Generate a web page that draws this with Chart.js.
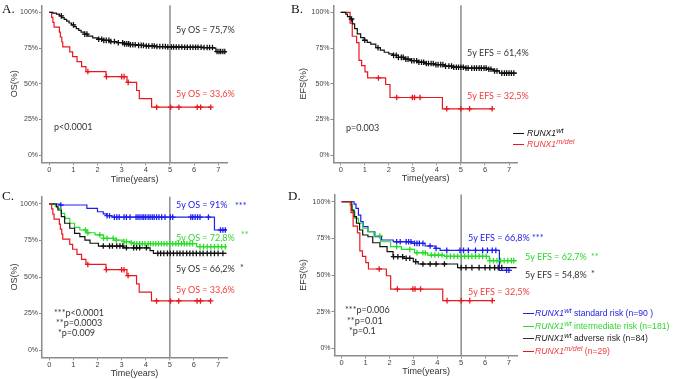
<!DOCTYPE html>
<html>
<head>
<meta charset="utf-8">
<script src="https://cdn.jsdelivr.net/npm/chart.js@4.4.0/dist/chart.umd.min.js"></script>
<style>
  body { margin: 0; background: #fff; }
  #page { position: relative; width: 673px; height: 379px; overflow: hidden; font-family: "Liberation Sans", Arial, sans-serif; }
  canvas { position: absolute; }
  .txt { position: absolute; font-family: Lato, "Liberation Sans", sans-serif; font-size: 9px; line-height: 1; white-space: nowrap; transform: translateY(-50%); }
  .lab { position: absolute; font-family: "Liberation Serif", serif; font-size: 13px; line-height: 1; transform: translateY(-50%); color: #111; }
  .sw { position: absolute; height: 0; border-top: 1.6px solid; }
  .lg { position: absolute; font-size: 8.6px; line-height: 1; white-space: nowrap; transform: translateY(-50%); }
  .lg i sup { font-size: 7.5px; vertical-align: 3px; line-height: 0; }
</style>
</head>
<body>
<div id="page">
  <canvas id="chartA" width="290" height="190" style="left:0;top:0"></canvas>
  <canvas id="chartB" width="383" height="190" style="left:290px;top:0"></canvas>
  <canvas id="chartC" width="290" height="194" style="left:0;top:185px"></canvas>
  <canvas id="chartD" width="383" height="194" style="left:290px;top:185px"></canvas>

  <div class="lab" style="left:2px;top:8px">A.</div>
  <div class="lab" style="left:291px;top:8px">B.</div>
  <div class="lab" style="left:2px;top:195px">C.</div>
  <div class="lab" style="left:288px;top:195px">D.</div>

  <!-- A -->
  <div class="txt" style="left:176px;top:29px;color:#333">5y OS = 75,7%</div>
  <div class="txt" style="left:176px;top:93px;color:#f23c3c">5y OS = 33,6%</div>
  <div class="txt" style="left:54px;top:126px;color:#333">p&lt;0.0001</div>
  <!-- B -->
  <div class="txt" style="left:467px;top:52px;color:#333">5y EFS = 61,4%</div>
  <div class="txt" style="left:467px;top:95px;color:#f23c3c">5y EFS = 32,5%</div>
  <div class="txt" style="left:346px;top:127px;color:#333">p=0.003</div>
  <div class="sw" style="left:513px;top:133px;width:11px;border-color:#111"></div>
  <div class="lg" style="left:527px;top:133px;color:#111"><i>RUNX1<sup>wt</sup></i></div>
  <div class="sw" style="left:513px;top:144px;width:11px;border-color:#e8171e"></div>
  <div class="lg" style="left:527px;top:144px;color:#f23c3c"><i>RUNX1<sup>m/del</sup></i></div>
  <!-- C -->
  <div class="txt" style="left:176px;top:204px;color:#2020e6">5y OS = 91%</div>
  <div class="txt" style="left:235px;top:205px;color:#2020e6">***</div>
  <div class="txt" style="left:176px;top:237px;color:#2fd62f">5y OS = 72,8%</div>
  <div class="txt" style="left:241px;top:234px;color:#2fd62f">**</div>
  <div class="txt" style="left:176px;top:268px;color:#333">5y OS = 66,2%</div>
  <div class="txt" style="left:240px;top:267px;color:#333">*</div>
  <div class="txt" style="left:176px;top:289px;color:#f23c3c">5y OS = 33,6%</div>
  <div class="txt" style="left:54px;top:312px;color:#333">***p&lt;0.0001</div>
  <div class="txt" style="left:56px;top:322px;color:#333">**p=0.0003</div>
  <div class="txt" style="left:58px;top:332px;color:#333">*p=0.009</div>
  <!-- D -->
  <div class="txt" style="left:468px;top:237px;color:#2020e6">5y EFS = 66,8%</div>
  <div class="txt" style="left:532px;top:237px;color:#2020e6">***</div>
  <div class="txt" style="left:525px;top:256px;color:#2fd62f">5y EFS = 62,7%</div>
  <div class="txt" style="left:591px;top:256px;color:#2fd62f">**</div>
  <div class="txt" style="left:525px;top:274px;color:#333">5y EFS = 54,8%</div>
  <div class="txt" style="left:591px;top:273px;color:#333">*</div>
  <div class="txt" style="left:468px;top:291px;color:#f23c3c">5y EFS = 32,5%</div>
  <div class="txt" style="left:345px;top:309px;color:#333">***p=0.006</div>
  <div class="txt" style="left:347px;top:320px;color:#333">**p=0.01</div>
  <div class="txt" style="left:349px;top:330px;color:#333">*p=0.1</div>
  <div class="sw" style="left:523px;top:313px;width:11px;border-color:#1e1ef0"></div>
  <div class="lg" style="left:535px;top:313px;color:#2020e6"><i>RUNX1<sup>wt</sup></i> standard risk (n=90 )</div>
  <div class="sw" style="left:523px;top:326px;width:11px;border-color:#27dd27"></div>
  <div class="lg" style="left:535px;top:326px;color:#2fd62f"><i>RUNX1<sup>wt</sup></i> intermediate risk (n=181)</div>
  <div class="sw" style="left:523px;top:338px;width:11px;border-color:#333"></div>
  <div class="lg" style="left:535px;top:338px;color:#222"><i>RUNX1<sup>wt</sup></i> adverse risk (n=84)</div>
  <div class="sw" style="left:523px;top:351px;width:11px;border-color:#e8171e"></div>
  <div class="lg" style="left:535px;top:351px;color:#f23c3c"><i>RUNX1<sup>m/del</sup></i> (n=29)</div>
</div>

<script>
// axis ticks
const yearTicks = [0, 1, 2, 3, 4, 5, 6, 7];
const pctTicks = [0, 25, 50, 75, 100];
const landmarkYear = 5;

// A: overall survival, RUNX1 wt vs m/del
const osWtTime = [0, 0.15, 0.3, 0.42, 0.52, 0.62, 0.72, 0.82, 0.92, 1.02, 1.12, 1.22, 1.32, 1.45, 1.6, 1.8, 2.0, 2.2, 2.5, 2.8, 3.05, 3.3, 3.6, 4.0, 4.4, 4.85, 5.6, 6.3, 6.82, 6.9, 7.35];
const osWtSurv = [100, 99.5, 98.8, 97.6, 96.4, 95.1, 93.9, 92.6, 91.3, 90, 88.7, 87.4, 86.2, 84.8, 83.4, 82.2, 81.2, 80.4, 79.6, 78.8, 78, 77.4, 76.9, 76.5, 76.1, 75.8, 75.6, 75.4, 75, 72.6, 72.6];
const osWtCensor = [0.5, 1.0, 1.47, 1.56, 2.05, 2.17, 2.26, 2.36, 2.47, 2.55, 2.7, 2.86, 3.04, 3.12, 3.21, 3.29, 3.36, 3.46, 3.56, 3.7, 3.81, 3.9, 4.02, 4.12, 4.26, 4.35, 4.46, 4.58, 4.7, 4.81, 4.91, 5.06, 5.15, 5.26, 5.37, 5.49, 5.61, 5.72, 5.84, 5.95, 6.06, 6.16, 6.29, 6.41, 6.54, 6.64, 6.76, 6.95, 7.03, 7.1, 7.19, 7.27];

const osMutTime = [0, 0.1, 0.15, 0.2, 0.42, 0.46, 0.52, 0.56, 0.85, 0.97, 1.15, 1.34, 1.52, 2.35, 3.22, 3.62, 3.73, 4.24, 6.69];
const osMutSurv = [100, 96.6, 93.1, 89.7, 86.2, 82.8, 79.3, 75.9, 72.4, 69, 65.5, 62.1, 58.6, 55, 51, 45.3, 39.6, 33.6, 33.6];
const osMutCensor = [1.6, 2.37, 3.0, 3.1, 3.27, 4.45, 5.03, 5.37, 6.13, 6.27, 6.69];

// B: event-free survival, RUNX1 wt vs m/del
const efsWtTime = [0, 0.21, 0.28, 0.39, 0.49, 0.58, 0.69, 0.83, 0.97, 1.1, 1.25, 1.46, 1.65, 1.81, 2.0, 2.15, 2.4, 2.64, 2.9, 3.19, 3.5, 3.88, 4.3, 4.7, 5.2, 6.07, 6.35, 6.6, 7.32];
const efsWtSurv = [100, 98.8, 97, 95.4, 92, 88.6, 85, 82.4, 80.5, 79, 77.8, 75.3, 73.6, 72.1, 71, 69.9, 68.5, 67.3, 66.2, 65.1, 64.2, 63.4, 62.4, 61.6, 61, 60.2, 59, 57.5, 57.5];
const efsWtCensor = [0.45, 1.0, 1.55, 2.2, 2.31, 2.4, 2.52, 2.6, 2.71, 2.8, 2.95, 3.05, 3.16, 3.25, 3.36, 3.45, 3.56, 3.65, 3.76, 3.85, 3.96, 4.05, 4.16, 4.25, 4.36, 4.5, 4.61, 4.7, 4.81, 4.9, 5.0, 5.1, 5.21, 5.3, 5.45, 5.56, 5.65, 5.76, 5.85, 5.96, 6.05, 6.16, 6.25, 6.4, 6.5, 6.7, 6.81, 6.9, 7.0, 7.1, 7.2];

const efsMutTime = [0, 0.39, 0.48, 0.66, 0.76, 0.87, 1.01, 1.12, 1.87, 2.05, 4.23, 6.3];
const efsMutSurv = [100, 92.5, 83.3, 78.8, 66.4, 62.7, 58.4, 54.1, 49.5, 40.4, 32.5, 32.5];
const efsMutCensor = [1.57, 2.33, 2.98, 3.07, 3.3, 4.41, 5.0, 5.36, 6.3];

// C: overall survival by ELN risk within RUNX1 wt
const osStdTime = [0, 0.44, 1.56, 2.0, 2.24, 2.38, 2.6, 6.85, 7.35];
const osStdSurv = [100, 99.3, 97, 94.7, 93.2, 92, 91, 82.2, 82.2];
const osStdCensor = [0.48, 2.4, 2.5, 2.7, 2.8, 2.9, 3.1, 3.2, 3.35, 3.6, 3.68, 3.76, 3.85, 3.92, 4.0, 4.1, 4.18, 4.27, 4.35, 4.45, 4.55, 4.66, 4.8, 5.02, 5.12, 5.87, 5.95, 6.05, 6.15, 6.25, 6.6, 7.1, 7.2, 7.3];

const osIntTime = [0, 0.25, 0.36, 0.5, 0.64, 0.85, 1.05, 1.27, 1.54, 1.9, 2.25, 2.66, 3.07, 3.35, 3.5, 6.11, 7.35];
const osIntSurv = [100, 98.6, 97, 93.6, 90.2, 86.8, 84, 82.2, 80.3, 78.8, 76.5, 75.3, 74.2, 73.5, 72.8, 70.8, 70.8];
const osIntCensor = [1.5, 1.6, 2.1, 2.25, 2.4, 2.65, 2.78, 3.1, 3.2, 3.4, 3.52, 3.63, 3.75, 3.86, 3.97, 4.1, 4.2, 4.31, 4.42, 4.53, 4.65, 4.76, 4.88, 5.0, 5.12, 5.25, 5.36, 5.48, 5.6, 5.71, 5.83, 5.94, 6.25, 6.4, 6.55, 6.7, 6.85, 7.0, 7.15, 7.3];

const osAdvTime = [0, 0.3, 0.36, 0.5, 0.64, 0.85, 1.05, 1.27, 1.48, 1.69, 2.04, 3.07, 4.18, 4.32, 7.35];
const osAdvSurv = [100, 98, 95.9, 91.3, 86.8, 83.4, 79.9, 77.6, 75.3, 73.1, 71.2, 70, 68, 66.2, 66.2];
const osAdvCensor = [2.24, 2.5, 2.62, 2.8, 2.93, 3.05, 3.2, 3.5, 3.62, 3.75, 4.03, 4.5, 4.62, 4.75, 4.9, 5.02, 5.15, 5.3, 5.42, 5.55, 5.7, 5.83, 5.96, 6.1, 6.25, 6.38, 6.55, 6.7, 6.85, 7.0, 7.2];

// D: event-free survival by ELN risk within RUNX1 wt
const efsStdTime = [0, 0.52, 0.6, 0.7, 0.8, 0.9, 1.1, 1.39, 1.67, 2.16, 2.93, 3.49, 3.91, 4.12, 6.6, 7.1];
const efsStdSurv = [100, 98.4, 95.5, 90.9, 86.4, 83, 79.5, 76.1, 73.9, 72.7, 71.6, 69.8, 68.2, 66.8, 53.2, 53.2];
const efsStdCensor = [2.3, 2.45, 2.7, 2.8, 2.9, 3.05, 3.15, 3.25, 3.4, 3.7, 3.95, 4.4, 4.95, 5.1, 5.3, 5.6, 5.9, 6.1, 6.3, 6.45, 6.9, 7.0];

const efsIntTime = [0, 0.35, 0.45, 0.55, 0.7, 0.88, 1.1, 1.35, 1.62, 2.05, 2.5, 3.05, 3.6, 4.3, 6.18, 7.32];
const efsIntSurv = [100, 97.7, 93.2, 88.7, 85.3, 81.9, 79.5, 76.6, 72.7, 69.3, 67.5, 65.2, 63.6, 62.7, 59.8, 59.8];
const efsIntCensor = [1.6, 2.3, 2.85, 3.15, 3.4, 3.5, 3.75, 3.9, 4.05, 4.2, 4.4, 4.55, 4.7, 4.85, 5.0, 5.15, 5.3, 5.45, 5.6, 5.75, 5.9, 6.05, 6.2, 6.35, 6.5, 6.65, 6.8, 6.95, 7.1, 7.2];

const efsAdvTime = [0, 0.42, 0.52, 0.62, 0.75, 0.88, 1.1, 1.3, 1.6, 1.9, 2.15, 2.6, 3.0, 3.2, 4.85, 7.32];
const efsAdvSurv = [100, 94.3, 89.8, 85.3, 80.7, 77.3, 76.1, 72, 69.3, 65.9, 62.5, 61.4, 59.1, 57.5, 55, 55];
const efsAdvCensor = [2.17, 2.35, 2.55, 2.7, 2.85, 3.1, 3.4, 3.7, 3.95, 4.3, 5.0, 5.2, 5.45, 5.75, 6.0, 6.2, 6.4, 6.55, 6.7];

const BLACK = '#111', RED = '#e8171e', GREEN = '#27dd27', BLUE = '#1e1ef0';

Chart.defaults.font.family = '"Liberation Sans", Arial, sans-serif';

// survival value at time t (KM step function)
function survAt(t, times, surv) {
  let s = surv[0];
  for (let i = 0; i < times.length; i++) {
    if (times[i] <= t) s = surv[i];
  }
  return s;
}

function curve(times, surv, color) {
  return {
    type: 'line',
    data: times.map((t, i) => ({ x: t, y: surv[i] })),
    borderColor: color,
    borderWidth: 1.2,
    stepped: true,
    pointRadius: 0,
    fill: false
  };
}

function marks(censor, times, surv, color) {
  return {
    type: 'scatter',
    data: censor.map(t => ({ x: t, y: survAt(t, times, surv) })),
    borderColor: color,
    backgroundColor: color,
    pointStyle: 'cross',
    pointRadius: 2.8,
    borderWidth: 1.3,
    showLine: false
  };
}

const landmarkLine = {
  id: 'landmarkLine',
  beforeDatasetsDraw(chart) {
    const x = chart.scales.x.getPixelForValue(landmarkYear);
    const { top, bottom } = chart.chartArea;
    const ctx = chart.ctx;
    ctx.save();
    ctx.strokeStyle = '#8c8c8c';
    ctx.lineWidth = 1.5;
    ctx.beginPath();
    ctx.moveTo(x, top);
    ctx.lineTo(x, bottom);
    ctx.stroke();
    ctx.restore();
  }
};

// canvas box and plot area in page pixels
function makeChart(id, box, area, yTitle, padLeft, padBottom, groups) {
  const datasets = [];
  groups.forEach(g => datasets.push(curve(g[0], g[1], g[3])));
  groups.forEach(g => datasets.push(marks(g[2], g[0], g[1], g[3])));
  new Chart(document.getElementById(id), {
    type: 'line',
    data: { datasets: datasets },
    plugins: [landmarkLine],
    options: {
      responsive: false,
      animation: false,
      devicePixelRatio: 1,
      layout: {
        padding: {
          top: area.top - box.top,
          right: box.left + box.width - area.right,
          left: padLeft,
          bottom: padBottom
        }
      },
      plugins: { legend: { display: false }, tooltip: { enabled: false } },
      scales: {
        x: {
          type: 'linear',
          min: -0.3,
          max: 7.37,
          afterBuildTicks: s => { s.ticks = yearTicks.map(v => ({ value: v })); },
          afterFit: s => { s.height = box.top + box.height - padBottom - area.bottom; },
          ticks: { font: { size: 7.5 }, color: '#444', padding: 0, maxRotation: 0 },
          grid: { display: true, drawOnChartArea: false, drawTicks: true, tickLength: 3, color: '#8c8c8c' },
          border: { color: '#8c8c8c', width: 1.5 },
          title: { display: true, text: 'Time(years)', font: { size: 9 }, color: '#333', padding: 0 }
        },
        y: {
          type: 'linear',
          min: -5,
          max: 105,
          afterBuildTicks: s => { s.ticks = pctTicks.map(v => ({ value: v })); },
          afterFit: s => { s.width = area.left - box.left - padLeft; },
          ticks: { font: { size: 7 }, color: '#444', padding: 1, callback: v => v + '%' },
          grid: { display: true, drawOnChartArea: false, drawTicks: true, tickLength: 3, color: '#8c8c8c' },
          border: { color: '#8c8c8c', width: 1.5 },
          title: { display: true, text: yTitle, font: { size: 9 }, color: '#333', padding: 0 }
        }
      }
    }
  });
}

makeChart('chartA', { left: 0, top: 0, width: 290, height: 190 },
  { left: 42, right: 227.2, top: 0.6, bottom: 162.3 }, 'OS(%)', 9.6, 4.6, [
    [osWtTime, osWtSurv, osWtCensor, BLACK],
    [osMutTime, osMutSurv, osMutCensor, RED]
  ]);

makeChart('chartB', { left: 290, top: 0, width: 383, height: 190 },
  { left: 333.5, right: 517.9, top: 0.6, bottom: 162.3 }, 'EFS(%)', 8, 5.6, [
    [efsWtTime, efsWtSurv, efsWtCensor, BLACK],
    [efsMutTime, efsMutSurv, efsMutCensor, RED]
  ]);

makeChart('chartC', { left: 0, top: 185, width: 290, height: 194 },
  { left: 42, right: 227, top: 196.7, bottom: 357.3 }, 'OS(%)', 9.6, 0, [
    [osMutTime, osMutSurv, osMutCensor, RED],
    [osAdvTime, osAdvSurv, osAdvCensor, BLACK],
    [osIntTime, osIntSurv, osIntCensor, GREEN],
    [osStdTime, osStdSurv, osStdCensor, BLUE]
  ]);

makeChart('chartD', { left: 290, top: 185, width: 383, height: 194 },
  { left: 334.5, right: 517.8, top: 194.4, bottom: 355.6 }, 'EFS(%)', 8, 1.7, [
    [efsMutTime, efsMutSurv, efsMutCensor, RED],
    [efsAdvTime, efsAdvSurv, efsAdvCensor, BLACK],
    [efsIntTime, efsIntSurv, efsIntCensor, GREEN],
    [efsStdTime, efsStdSurv, efsStdCensor, BLUE]
  ]);
</script>
</body>
</html>
